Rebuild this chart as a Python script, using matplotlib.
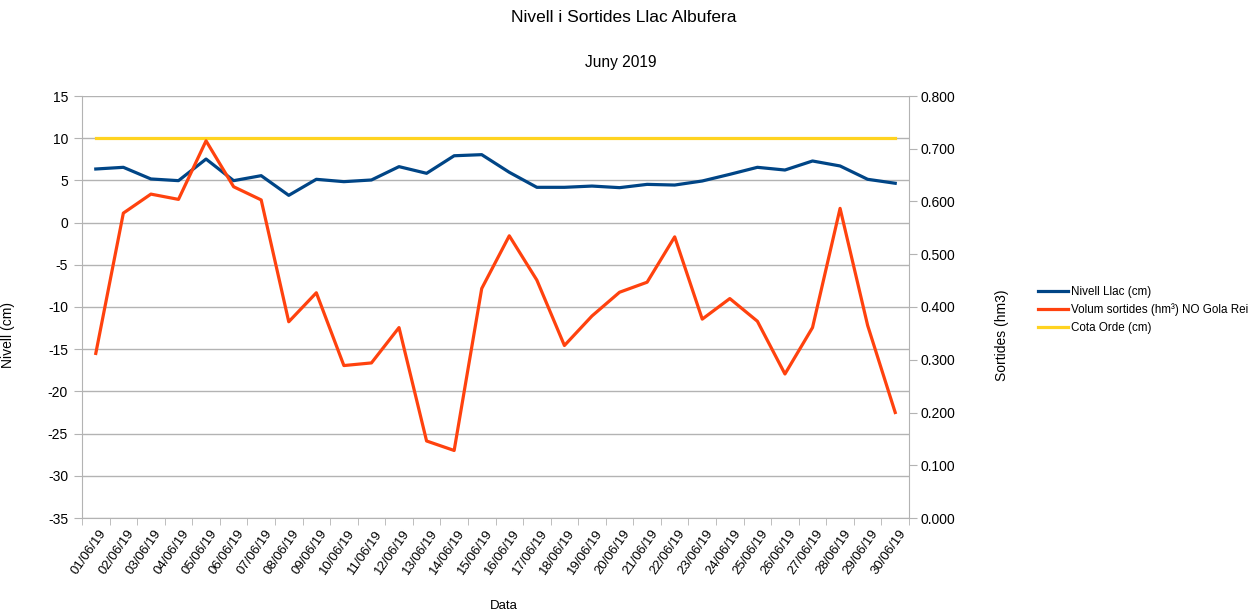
import numpy as np
import matplotlib
matplotlib.use("Agg")
import matplotlib.pyplot as plt
from matplotlib.ticker import FixedLocator, FuncFormatter

plt.rcParams.update({
    "font.family": ["Liberation Sans", "DejaVu Sans"],
    "axes.unicode_minus": False,
})

# ---- data ----
dates = [f"{d:02d}/06/19" for d in range(1, 31)]
nivell = [6.35, 6.55, 5.17, 4.97, 7.53, 4.97, 5.56, 3.23, 5.13, 4.85,
          5.05, 6.63, 5.84, 7.92, 8.05, 5.96, 4.18, 4.18, 4.33, 4.14,
          4.53, 4.45, 4.93, 5.72, 6.55, 6.23, 7.30, 6.71, 5.13, 4.66]
volum = [0.312, 0.578, 0.614, 0.604, 0.715, 0.628, 0.603, 0.372, 0.427, 0.289,
         0.294, 0.361, 0.146, 0.128, 0.435, 0.535, 0.451, 0.327, 0.383, 0.428,
         0.447, 0.533, 0.377, 0.416, 0.373, 0.273, 0.361, 0.587, 0.365, 0.200]
cota = [10] * 30

C_BLUE = "#004586"
C_RED = "#ff420e"
C_YEL = "#ffd320"
GRID = "#b3b3b3"

fig = plt.figure(figsize=(12.55, 6.12), dpi=100)
ax = fig.add_axes([82/1255, 1-518/612, 827/1255, 422/612])
ax2 = ax.twinx()

x = np.arange(len(dates))
l1, = ax.plot(x, nivell, color=C_BLUE, lw=2.3, label="Nivell Llac (cm)")
l3, = ax.plot(x, cota, color=C_YEL, lw=2.3, label="Cota Orde (cm)")
l2, = ax2.plot(x, volum, color=C_RED, lw=2.3, label="Volum sortides (hm³) NO Gola Rei")

ax.set_xlim(-0.5, len(dates) - 0.5)
ax.set_ylim(-35, 15)
ax.set_yticks(np.arange(-35, 16, 5))
ax2.set_ylim(0, 0.8)
ax2.set_yticks(np.arange(0, 0.81, 0.1))
ax2.yaxis.set_major_formatter(FuncFormatter(lambda v, _: f"{v:.3f}"))

ax.grid(axis="y", color=GRID, lw=1)
ax.set_axisbelow(True)
for a in (ax, ax2):
    for s in a.spines.values():
        s.set_color(GRID)
    a.spines["top"].set_visible(False)
ax.spines["right"].set_visible(False)
ax2.spines["left"].set_visible(False)
ax2.spines["bottom"].set_visible(False)

ax.set_xticks(x + 0.12)
ax.set_xticklabels(dates, rotation=55, ha="right", va="top",
                   rotation_mode="anchor", fontsize=9.5)
ax.tick_params(axis="x", which="major", length=0, pad=7)
ax.xaxis.set_minor_locator(FixedLocator(np.arange(-0.5, len(dates), 1.0)))
ax.tick_params(axis="x", which="minor", length=5, color=GRID)
ax.tick_params(axis="y", length=6, color=GRID, labelsize=10, pad=4)
ax2.tick_params(axis="y", length=6, color=GRID, labelsize=10, pad=2)

ax.set_ylabel("Nivell (cm)", fontsize=10)
ax.yaxis.set_label_coords(-0.081, 0.434)
ax2.set_ylabel("Sortides (hm3)", fontsize=10)
ax2.yaxis.set_label_coords(1.104, 0.434)
ax.set_xlabel("Data", fontsize=9.5, va="top")
ax.xaxis.set_label_coords(0.51, -0.195)

fig.text(624/1255, 1-18/612, "Nivell i Sortides Llac Albufera", ha="center",
         va="center", fontsize=12.5)
fig.text(621/1255, 1-62/612, "Juny 2019", ha="center", va="center", fontsize=11.2)

fig.legend([l1, l2, l3], [l1.get_label(), l2.get_label(), l3.get_label()],
           loc="center left", bbox_to_anchor=(1027/1255, 1-310/612),
           frameon=False, fontsize=8.4, handlelength=2.6, handletextpad=0.3,
           labelspacing=0.45)

fig.savefig("out.png", dpi=100)
